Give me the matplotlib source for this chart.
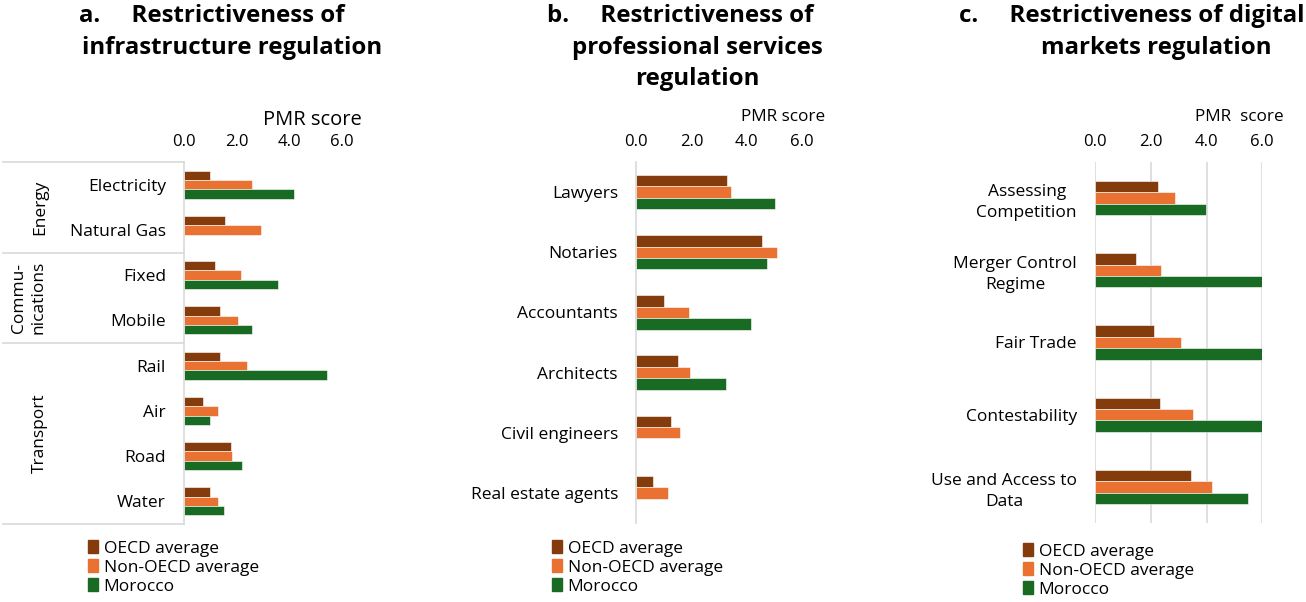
import numpy as np
import matplotlib.pyplot as plt
from matplotlib.patches import Patch
from matplotlib.ticker import FormatStrFormatter

plt.rcParams["font.family"] = ["Open Sans", "DejaVu Sans"]

W, H = 1306, 602
GRID = "#D9D9D9"

series = ["OECD average", "Non-OECD average", "Morocco"]
colors = ["#843C0C", "#E97132", "#196B24"]

# a. infrastructure
infra_sectors = ["Electricity", "Natural Gas", "Fixed", "Mobile", "Rail", "Air", "Road", "Water"]
infra_groups = ["Energy", "Commu-\nnications", "Transport"]
infra_group_sizes = [2, 2, 4]
infra_oecd = [0.98, 1.55, 1.17, 1.38, 1.36, 0.73, 1.79, 1.00]
infra_non_oecd = [2.59, 2.93, 2.18, 2.04, 2.39, 1.30, 1.84, 1.30]
infra_morocco = [4.19, np.nan, 3.57, 2.60, 5.42, 0.98, 2.19, 1.53]

# b. professional services
prof_sectors = ["Lawyers", "Notaries", "Accountants", "Architects",
                "Civil engineers", "Real estate agents"]
prof_oecd = [3.30, 4.55, 1.00, 1.52, 1.26, 0.63]
prof_non_oecd = [3.42, 5.09, 1.90, 1.95, 1.60, 1.14]
prof_morocco = [5.00, 4.73, 4.15, 3.23, np.nan, np.nan]

# c. digital markets
digital_areas = ["Assessing\nCompetition", "Merger Control\nRegime", "Fair Trade",
                 "Contestability", "Use and Access to\nData"]
digital_oecd = [2.26, 1.47, 2.10, 2.32, 3.43]
digital_non_oecd = [2.87, 2.38, 3.07, 3.50, 4.18]
digital_morocco = [3.99, 6.00, 6.00, 6.00, 5.49]

ticks = [0, 2, 4, 6]


def fig_box(left, top, right, bottom):
    return [left / W, 1 - bottom / H, (right - left) / W, (bottom - top) / H]


def fx(x):
    return x / W


def fy(y):
    return 1 - y / H


def draw_panel(ax, labels, values, bar_h):
    y = np.arange(len(labels))
    for k, (vals, col) in enumerate(zip(values, colors)):
        ax.barh(y + (k - 1) * bar_h, np.array(vals, dtype=float), height=bar_h,
                color=col, edgecolor="white", linewidth=0.4)
    ax.set_ylim(len(labels) - 0.5, -0.5)
    ax.set_xlim(0, 6)
    ax.set_xticks(ticks)
    ax.xaxis.set_major_formatter(FormatStrFormatter("%.1f"))
    ax.xaxis.tick_top()
    ax.tick_params(axis="x", length=0, pad=9, labelsize=12)
    ax.tick_params(axis="y", length=0, pad=13, labelsize=12.5)
    ax.set_yticks(y)
    ax.set_yticklabels(labels, multialignment="center", linespacing=1.4)
    for s in ["top", "right", "bottom"]:
        ax.spines[s].set_visible(False)
    ax.spines["left"].set_color(GRID)
    ax.spines["left"].set_linewidth(1.2)


fig = plt.figure(figsize=(W / 100, H / 100), dpi=100)

# panel a
ax_a = fig.add_axes(fig_box(184, 162, 342, 524))
draw_panel(ax_a, infra_sectors, [infra_oecd, infra_non_oecd, infra_morocco], 0.206)
trans = ax_a.get_yaxis_transform()
x0 = (3 - 184) / (342 - 184)
bounds = np.concatenate([[0], np.cumsum(infra_group_sizes)]) - 0.5
for b in bounds:
    ax_a.plot([x0, 0], [b, b], color=GRID, lw=1.2, transform=trans, clip_on=False)
for g, lo, hi, gx in zip(infra_groups, bounds[:-1], bounds[1:], [40, 29, 40]):
    ax_a.text((gx - 184) / (342 - 184), (lo + hi) / 2, g, rotation=90, ha="center",
              va="center", fontsize=12.5, transform=trans, linespacing=1.3)

# panel b
ax_b = fig.add_axes(fig_box(636, 162, 802.3, 523))
draw_panel(ax_b, prof_sectors, [prof_oecd, prof_non_oecd, prof_morocco], 0.19)

# panel c
ax_c = fig.add_axes(fig_box(1095, 162, 1262.3, 523))
draw_panel(ax_c, digital_areas, [digital_oecd, digital_non_oecd, digital_morocco], 0.158)
ax_c.spines["left"].set_visible(False)
ax_c.grid(axis="x", color=GRID, lw=1.2)
ax_c.set_axisbelow(True)

# axis titles
fig.text(fx(312), fy(120), "PMR score", ha="center", va="center", fontsize=14.5)
fig.text(fx(783), fy(117), "PMR score", ha="center", va="center", fontsize=12.3)
fig.text(fx(1239), fy(117), "PMR  score", ha="center", va="center", fontsize=12.3)

# panel titles
titles = [
    ("a.     Restrictiveness of", 212, 22), ("infrastructure regulation", 232, 53.5),
    ("b.     Restrictiveness of", 680, 22), ("professional services", 697, 53.5),
    ("regulation", 697, 85),
    ("c.     Restrictiveness of digital", 1132, 22), ("markets regulation", 1156, 53.5),
]
for txt, x, y in titles:
    fig.text(fx(x), fy(y), txt, ha="center", va="baseline", fontsize=17.3, fontweight="bold")

# legends
handles = [Patch(color=c, label=s) for c, s in zip(colors, series)]
for x, y in [(88, 540), (552, 540), (1023, 543)]:
    fig.legend(handles=handles, loc="upper left", bbox_to_anchor=(fx(x), fy(y)),
               frameon=False, fontsize=12.5, handlelength=0.6, handleheight=0.8,
               handletextpad=0.3, labelspacing=0.14, borderaxespad=0, borderpad=0)

fig.savefig("out.png", dpi=100)
